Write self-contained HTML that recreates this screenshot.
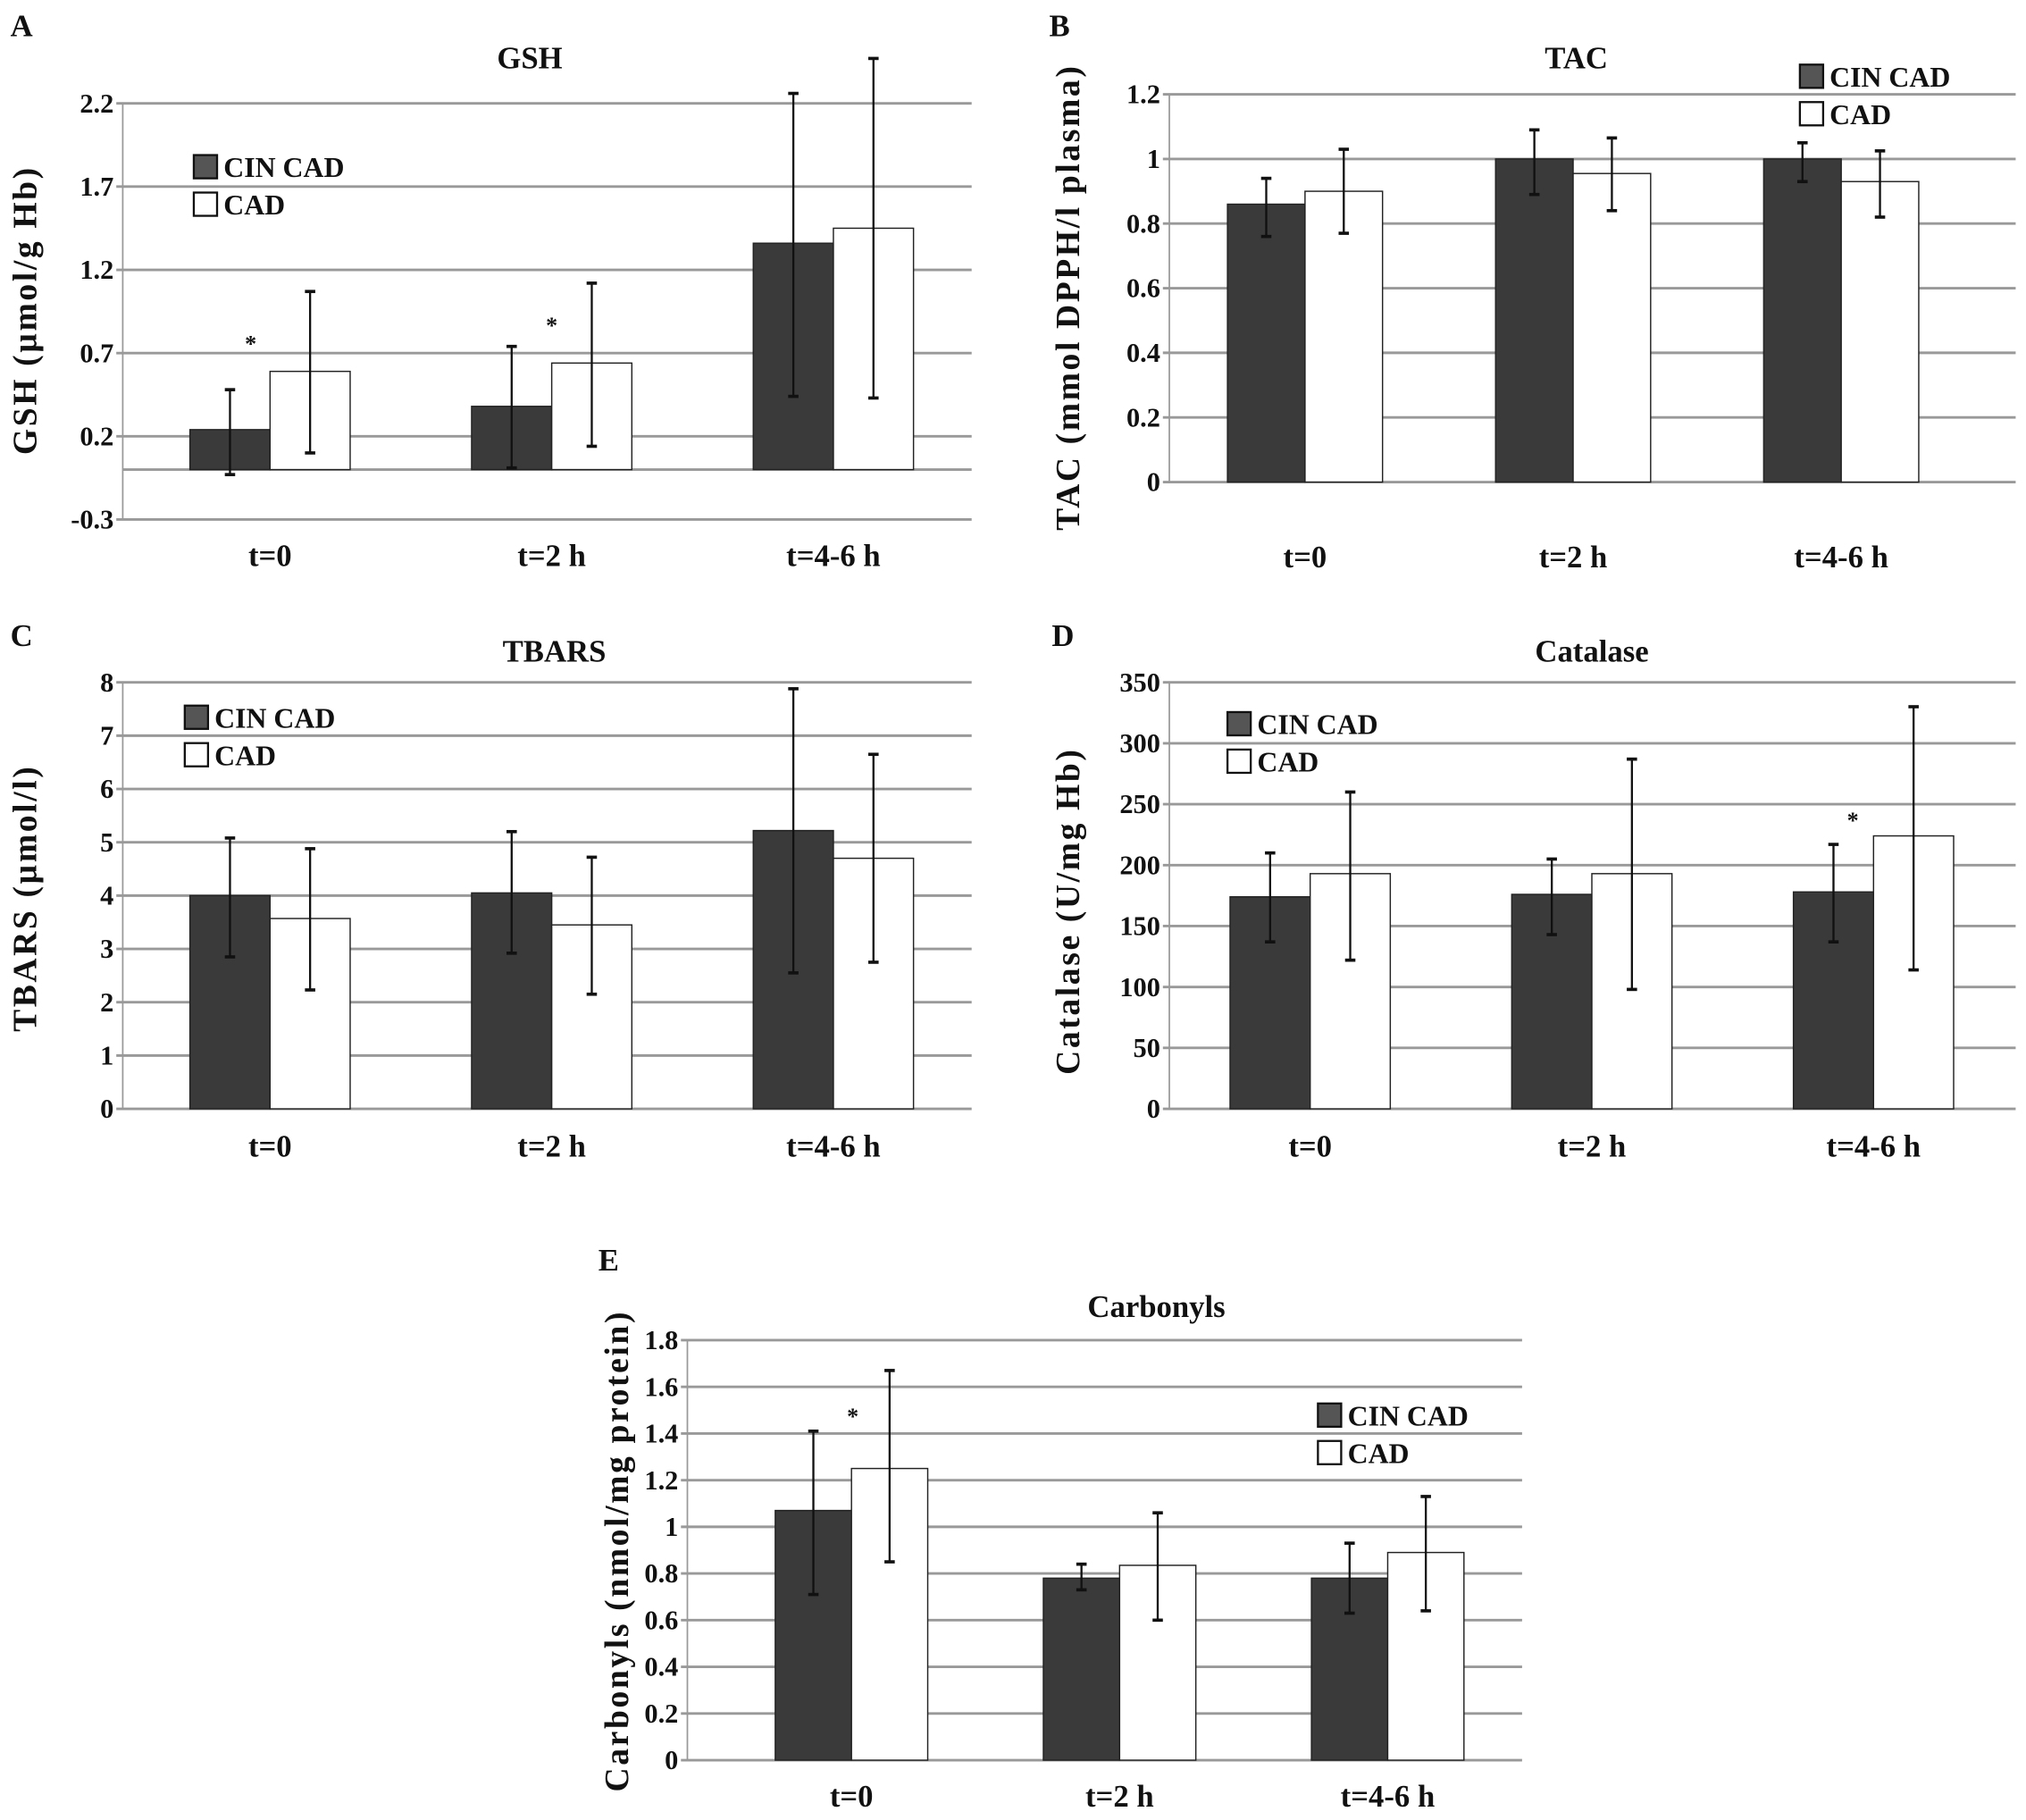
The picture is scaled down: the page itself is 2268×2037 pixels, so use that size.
<!DOCTYPE html>
<html><head><meta charset="utf-8"><style>
html,body{margin:0;padding:0;background:#fff}
svg{display:block}
text{font-family:"Liberation Serif",serif;font-weight:bold;fill:#111}
</style></head><body>
<svg id="fig" width="2268" height="2037" viewBox="0 0 1568 1408.3" preserveAspectRatio="none" xmlns="http://www.w3.org/2000/svg"></svg>
<script>
const categories = ["t=0", "t=2 h", "t=4-6 h"];
const seriesNames = ["CIN CAD", "CAD"];
// A GSH
const gshCin = [0.24, 0.38, 1.36];
const gshCinLo = [-0.03, 0.01, 0.44];
const gshCinHi = [0.48, 0.74, 2.26];
const gshCad = [0.59, 0.64, 1.45];
const gshCadLo = [0.10, 0.14, 0.43];
const gshCadHi = [1.07, 1.12, 2.47];
const gshTicks = [-0.3, 0.2, 0.7, 1.2, 1.7, 2.2];
// B TAC
const tacCin = [0.86, 1.0, 1.0];
const tacCinLo = [0.76, 0.89, 0.93];
const tacCinHi = [0.94, 1.09, 1.05];
const tacCad = [0.90, 0.955, 0.93];
const tacCadLo = [0.77, 0.84, 0.82];
const tacCadHi = [1.03, 1.065, 1.025];
const tacTicks = [0, 0.2, 0.4, 0.6, 0.8, 1, 1.2];
// C TBARS
const tbarsCin = [4.0, 4.05, 5.22];
const tbarsCinLo = [2.85, 2.92, 2.55];
const tbarsCinHi = [5.08, 5.2, 7.88];
const tbarsCad = [3.57, 3.45, 4.7];
const tbarsCadLo = [2.23, 2.15, 2.75];
const tbarsCadHi = [4.88, 4.72, 6.65];
const tbarsTicks = [0, 1, 2, 3, 4, 5, 6, 7, 8];
// D Catalase
const catCin = [174, 176, 178];
const catCinLo = [137, 143, 137];
const catCinHi = [210, 205, 217];
const catCad = [193, 193, 224];
const catCadLo = [122, 98, 114];
const catCadHi = [260, 287, 330];
const catTicks = [0, 50, 100, 150, 200, 250, 300, 350];
// E Carbonyls
const carbCin = [1.07, 0.78, 0.78];
const carbCinLo = [0.71, 0.73, 0.63];
const carbCinHi = [1.41, 0.84, 0.93];
const carbCad = [1.25, 0.835, 0.89];
const carbCadLo = [0.85, 0.60, 0.64];
const carbCadHi = [1.67, 1.06, 1.13];
const carbTicks = [0, 0.2, 0.4, 0.6, 0.8, 1, 1.2, 1.4, 1.6, 1.8];

const NS = "http://www.w3.org/2000/svg";
const svg = document.getElementById("fig");
function mk(tag, attrs, parent, txt) {
  const e = document.createElementNS(NS, tag);
  for (const k in attrs) e.setAttribute(k, attrs[k]);
  if (txt !== undefined) e.textContent = txt;
  (parent || svg).appendChild(e);
  return e;
}
function panel(p) {
  const g = mk("g", {});
  
  
  const ymin = p.ticks[0], ymax = p.ticks[p.ticks.length - 1];
  const y = v => p.y0 - (v - ymin) / (ymax - ymin) * (p.y0 - p.y1);
  const xc = i => p.c0 + i * p.step;
  const ax = mk("line", {x1: p.left, x2: p.left, y1: p.y1, y2: p.y0, stroke: "#999", "stroke-width": 1.2}, g);
  
  
  p.ticks.forEach(t => {
    const gl = mk("line", {x1: p.left - 5, x2: p.right, y1: y(t), y2: y(t), stroke: "#999", "stroke-width": 2}, g);
    
    
    const tl = mk("text", {x: p.left - 7, y: y(t) + 7, "text-anchor": "end", "font-size": 21}, g, String(t));
    
    
  });
  if (p.zero !== undefined) {
    const zl = mk("line", {x1: p.left, x2: p.right, y1: y(0), y2: y(0), stroke: "#999", "stroke-width": 2}, g);
    
    
  }
  const series = [
    {v: p.cin, lo: p.cinLo, hi: p.cinHi, fill: "#3a3a3a", off: -p.bw, n: "cin-cad"},
    {v: p.cad, lo: p.cadLo, hi: p.cadHi, fill: "#fff", off: 0, n: "cad"}
  ];
  const base = y(Math.max(0, ymin));
  series.forEach(s => {
    s.v.forEach((v, i) => {
      const x = xc(i) + s.off;
      const r = mk("rect", {x: x, y: y(v), width: p.bw, height: base - y(v), fill: s.fill, stroke: "#222", "stroke-width": 1}, g);
      
      
    });
  });
  series.forEach(s => {
    s.v.forEach((v, i) => {
      const cx = xc(i) + s.off + p.bw / 2;
      const eg = mk("g", {stroke: "#111", "stroke-width": 1.6}, g);
      
      
      mk("line", {x1: cx, x2: cx, y1: y(s.hi[i]), y2: y(s.lo[i])}, eg);
      mk("line", {x1: cx - 4, x2: cx + 4, y1: y(s.hi[i]), y2: y(s.hi[i]), "stroke-width": 2.5}, eg);
      mk("line", {x1: cx - 4, x2: cx + 4, y1: y(s.lo[i]), y2: y(s.lo[i]), "stroke-width": 2.5}, eg);
    });
  });
  categories.forEach((c, i) => {
    const t = mk("text", {x: xc(i), y: p.catY, "text-anchor": "middle", "font-size": 24}, g, c);
    
    
  });
  (p.stars || []).forEach(st => {
    const t = mk("text", {x: st[0], y: st[1], "text-anchor": "middle", "font-size": 18}, g, "*");
    
    
  });
  const ti = mk("text", {x: p.title[1], y: p.title[2], "text-anchor": "middle", "font-size": 24}, g, p.title[0]);
  
  
  const le = mk("text", {x: p.letter[1], y: p.letter[2], "font-size": 24}, g, p.letter[0]);
  
  
  const yt = mk("text", {x: 0, y: 0, "text-anchor": "middle", "font-size": 26, "letter-spacing": 1.8, transform: "translate(" + p.yt[1] + "," + p.yt[2] + ") rotate(-90)"}, g, p.yt[0]);
  
  
  const lg = mk("g", {}, g);
  
  
  seriesNames.forEach((n, k) => {
    const ly = p.leg[1] + k * 29;
    const b = mk("rect", {x: p.leg[0], y: ly, width: 18, height: 18, fill: k ? "#fff" : "#555", stroke: "#111", "stroke-width": 1.6}, lg);
    
    
    const t = mk("text", {x: p.leg[0] + 23, y: ly + 17, "font-size": 22}, lg, n);
    
    
  });
}
panel({key: "gsh", ticks: gshTicks, zero: true, y0: 402, y1: 80, left: 95, right: 752, c0: 209, step: 218, bw: 62,
  cin: gshCin, cinLo: gshCinLo, cinHi: gshCinHi, cad: gshCad, cadLo: gshCadLo, cadHi: gshCadHi, catY: 438,
  stars: [[194, 272], [427, 258]], title: ["GSH", 410, 53], letter: ["A", 8, 28], yt: ["GSH (µmol/g Hb)", 28, 240], leg: [150, 120]});
panel({key: "tac", ticks: tacTicks, y0: 373, y1: 73, left: 905, right: 1560, c0: 1010, step: 207.5, bw: 60,
  cin: tacCin, cinLo: tacCinLo, cinHi: tacCinHi, cad: tacCad, cadLo: tacCadLo, cadHi: tacCadHi, catY: 439,
  title: ["TAC", 1220, 53], letter: ["B", 812, 28], yt: ["TAC (mmol DPPH/l plasma)", 835, 230], leg: [1393, 50]});
panel({key: "tbars", ticks: tbarsTicks, y0: 858, y1: 528, left: 95, right: 752, c0: 209, step: 218, bw: 62,
  cin: tbarsCin, cinLo: tbarsCinLo, cinHi: tbarsCinHi, cad: tbarsCad, cadLo: tbarsCadLo, cadHi: tbarsCadHi, catY: 895,
  title: ["TBARS", 429, 512], letter: ["C", 8, 500], yt: ["TBARS (µmol/l)", 28, 695], leg: [143, 546]});
panel({key: "catalase", ticks: catTicks, y0: 858, y1: 528, left: 905, right: 1560, c0: 1014, step: 218, bw: 62,
  cin: catCin, cinLo: catCinLo, cinHi: catCinHi, cad: catCad, cadLo: catCadLo, cadHi: catCadHi, catY: 895,
  stars: [[1434, 641]], title: ["Catalase", 1232, 512], letter: ["D", 814, 500], yt: ["Catalase (U/mg Hb)", 835, 705], leg: [950, 551]});
panel({key: "carbonyls", ticks: carbTicks, y0: 1362, y1: 1037, left: 532, right: 1178, c0: 659, step: 207.5, bw: 59,
  cin: carbCin, cinLo: carbCinLo, cinHi: carbCinHi, cad: carbCad, cadLo: carbCadLo, cadHi: carbCadHi, catY: 1398,
  stars: [[660, 1102]], title: ["Carbonyls", 895, 1019], letter: ["E", 463, 983], yt: ["Carbonyls (nmol/mg protein)", 486, 1200], leg: [1020, 1086]});
</script>
</body></html>
